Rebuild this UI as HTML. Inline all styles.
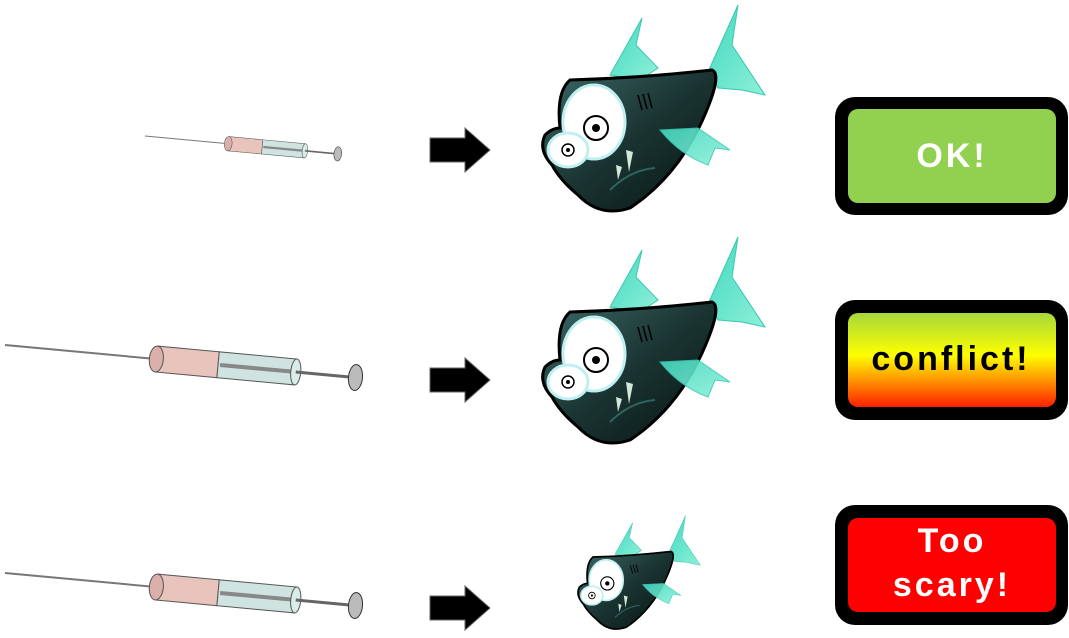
<!DOCTYPE html>
<html><head><meta charset="utf-8"><style>
html,body{margin:0;padding:0;background:#fff;width:1069px;height:638px;overflow:hidden}
svg{display:block}
text{font-family:"Liberation Sans","DejaVu Sans",sans-serif;font-weight:bold;letter-spacing:3px}
</style></head><body>
<svg width="1069" height="638" viewBox="0 0 1069 638" xmlns="http://www.w3.org/2000/svg">
<defs>
<linearGradient id="body" x1="0" y1="0" x2="1" y2="1">
<stop offset="0" stop-color="#3d6a68"/><stop offset="0.5" stop-color="#1a3432"/><stop offset="1" stop-color="#061410"/>
</linearGradient>
<linearGradient id="fin" x1="0" y1="0" x2="1" y2="1">
<stop offset="0" stop-color="#40d8c0"/><stop offset="1" stop-color="#8ff0d8"/>
</linearGradient>
<linearGradient id="conf" x1="0" y1="0" x2="0" y2="1">
<stop offset="0" stop-color="#a6d83c"/><stop offset="0.45" stop-color="#ffff00"/><stop offset="0.7" stop-color="#ff9a00"/><stop offset="1" stop-color="#ff2000"/>
</linearGradient>
<g id="fish">
<path d="M80,75 L112,18 L106,45 L128,68 L110,80 Z" fill="url(#fin)" stroke="#3cc8b0" stroke-width="1"/>
<path d="M178,72 L208,5 L202,45 L235,95 L212,90 L188,88 Z" fill="url(#fin)" stroke="#3cc8b0" stroke-width="1"/>
<path d="M40,80 Q110,78 182,70 Q192,74 176,112 Q150,175 100,208 Q70,218 48,195 Q30,180 22,165 Q8,150 15,135 Q22,128 30,128 Q26,92 40,80 Z" fill="url(#body)" stroke="#000" stroke-width="3"/>
<path d="M130,130 L168,128 L200,150 L185,148 L178,165 Q150,155 130,130 Z" fill="url(#fin)" stroke="#3cc8b0" stroke-width="1" opacity="0.9"/>
<ellipse cx="64" cy="122" rx="31" ry="37" fill="#fff" stroke="#bfeff0" stroke-width="3"/>
<circle cx="66" cy="128" r="12" fill="#fff" stroke="#000" stroke-width="2"/>
<circle cx="66" cy="128" r="4" fill="#000"/>
<ellipse cx="38" cy="150" rx="20" ry="17" fill="#fff" stroke="#bfeff0" stroke-width="3"/>
<circle cx="38" cy="150" r="6" fill="#fff" stroke="#000" stroke-width="1.5"/>
<circle cx="38" cy="150" r="2" fill="#000"/>
<path d="M96,150 L103,152 L99,172 Z" fill="#cfe8d8"/>
<path d="M86,165 L92,167 L88,180 Z" fill="#cfe8d8"/>
<path d="M80,190 Q100,170 125,168" stroke="#2d6462" stroke-width="2" fill="none"/>
<path d="M108,95 L112,110 M113,94 L117,109 M118,93 L122,108" stroke="#000" stroke-width="1.5"/>
</g>
<g id="syr">
<line x1="0" y1="0" x2="150" y2="0" stroke="#777" stroke-width="2"/>
<rect x="152" y="-13" width="62" height="26" fill="#e8c4bc" stroke="#555" stroke-width="1"/>
<rect x="214" y="-13" width="78" height="26" fill="#cfe4e0" stroke="#555" stroke-width="1"/>
<line x1="216" y1="0" x2="290" y2="0" stroke="#888" stroke-width="4"/>
<ellipse cx="152" cy="0" rx="7" ry="13" fill="#dcb0aa" stroke="#555"/>
<ellipse cx="292" cy="0" rx="5" ry="13" fill="#d8ece8" stroke="#555"/>
<line x1="292" y1="0" x2="350" y2="0" stroke="#666" stroke-width="3"/>
<ellipse cx="352" cy="0" rx="7" ry="13" fill="#bbb" stroke="#333"/>
</g>
<path id="arr" d="M0,-12 L35,-12 L35,-22 L60,0 L35,22 L35,12 L0,12 Z" fill="#000" stroke="#666" stroke-width="1"/>
</defs>

<use href="#syr" transform="translate(145,136) scale(0.55) rotate(5.3)"/>
<use href="#syr" transform="translate(5,345) rotate(5.3)"/>
<use href="#syr" transform="translate(5,573) rotate(5.3)"/>

<use href="#arr" transform="translate(430,150)"/>
<use href="#arr" transform="translate(430,380)"/>
<use href="#arr" transform="translate(430,608)"/>

<use href="#fish" transform="translate(530,0)"/>
<use href="#fish" transform="translate(530,232)"/>
<use href="#fish" transform="translate(571,513) scale(0.55)"/>

<rect x="835" y="97" width="233" height="118" rx="20" fill="#000"/>
<rect x="848" y="109" width="208" height="94" rx="10" fill="#92d050"/>
<text x="952" y="167" font-size="34" fill="#fff" text-anchor="middle">OK!</text>

<rect x="835" y="300" width="233" height="120" rx="20" fill="#000"/>
<rect x="848" y="313" width="208" height="94" rx="10" fill="url(#conf)"/>
<text x="951" y="370" font-size="34" fill="#000" text-anchor="middle">conflict!</text>

<rect x="835" y="505" width="233" height="120" rx="20" fill="#000"/>
<rect x="848" y="518" width="208" height="94" rx="10" fill="#ff0000"/>
<text x="952" y="552" font-size="34" fill="#fff" text-anchor="middle">Too</text>
<text x="952" y="596" font-size="34" fill="#fff" text-anchor="middle">scary!</text>
</svg>
</body></html>
